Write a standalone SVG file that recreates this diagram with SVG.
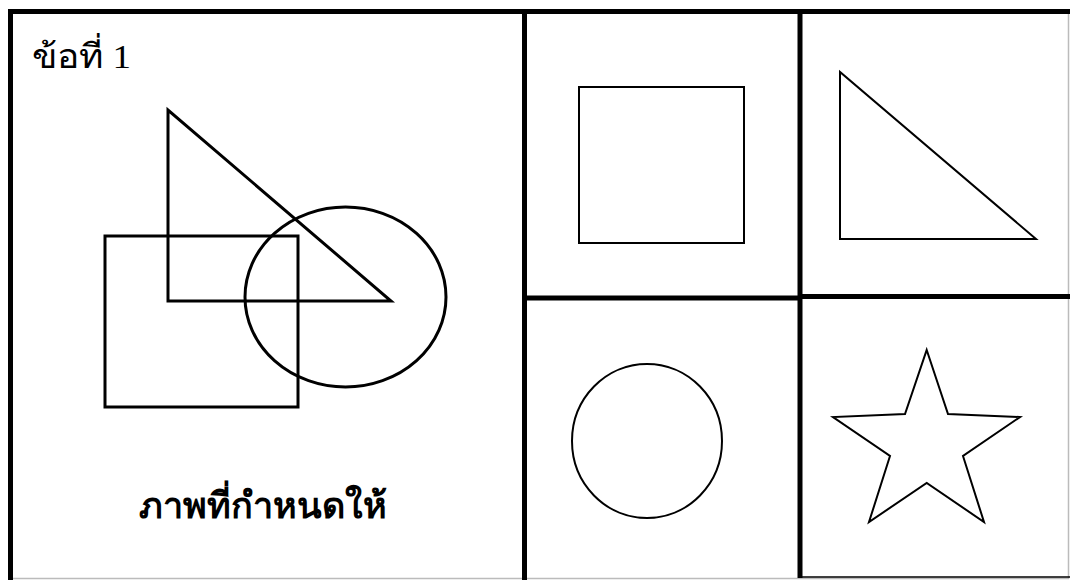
<svg xmlns="http://www.w3.org/2000/svg" width="1070" height="580" viewBox="0 0 1070 580">
<style>
.frame{stroke:#000;stroke-width:5;fill:none}
.thin{stroke:#bbb;stroke-width:1.5;fill:none}
.big{stroke:#000;stroke-width:3;fill:none}
.small{stroke:#000;stroke-width:2;fill:none;stroke-linejoin:miter}
.t{font-family:"Liberation Serif","DejaVu Serif",serif;fill:#000}
</style>
<rect width="1070" height="580" fill="#fff"/>
<g id="frame">
<line class="thin" x1="10" y1="578.5" x2="1069" y2="578.5"/>
<line class="thin" x1="1068.5" y1="12" x2="1068.5" y2="579"/>
<line class="frame" x1="8" y1="11.5" x2="1070" y2="11.5"/>
<line class="frame" x1="10.5" y1="9" x2="10.5" y2="580"/>
<line class="frame" x1="524.5" y1="9" x2="524.5" y2="580"/>
<line class="frame" x1="800" y1="9" x2="800" y2="578"/>
<line class="frame" x1="522" y1="298" x2="800" y2="298"/>
<line class="frame" x1="800" y1="296.5" x2="1070" y2="296.5"/>
<line stroke="#000" stroke-width="1.5" x1="800" y1="577" x2="1070" y2="577"/>
</g>
<g id="given">
<text class="t" x="32" y="68" font-size="34" textLength="99" lengthAdjust="spacingAndGlyphs">ข้อที่ 1</text>
<polygon class="big" points="168,110 168,301 391,301"/>
<rect class="big" x="105" y="236" width="193" height="171"/>
<ellipse class="big" cx="345.5" cy="297" rx="100.5" ry="90"/>
<text class="t" x="263" y="518" font-size="36" font-weight="bold" text-anchor="middle">ภาพที่กำหนดให้</text>
</g>
<g id="opt-square"><rect class="small" x="579" y="87" width="165" height="156"/></g>
<g id="opt-triangle"><polygon class="small" points="840,72 840,239 1036,239"/></g>
<g id="opt-circle"><ellipse class="small" cx="647" cy="441" rx="75" ry="77"/></g>
<g id="opt-star"><polygon class="small" points="926.7,350 948,414 1020,417 963,456 984,522 926.7,483 869,522 890,456 833,417 905,414"/></g>
<g id="connectors"></g>
</svg>
